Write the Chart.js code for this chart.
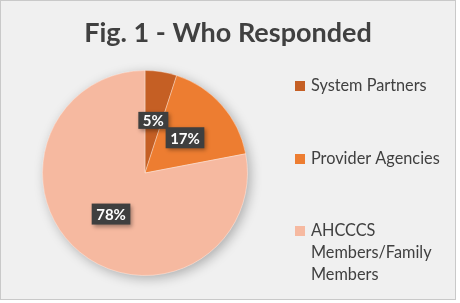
<!DOCTYPE html>
<html>
<head>
<meta charset="utf-8">
<script src="https://cdn.jsdelivr.net/npm/chart.js@4"></script>
<style>
  body { margin: 0; background: #ffffff; }
  #frame { position: absolute; left: 0; top: 0; width: 454px; height: 298px; border: 1px solid #c9c9c9; background: #f0f0f0; }
  #chart { position: absolute; left: 0; top: 0; }
</style>
</head>
<body>
<div id="frame"></div>
<canvas id="chart" width="460" height="303"></canvas>
<script>
// Survey respondents
const chartTitle = 'Fig. 1 - Who Responded';
const categories = ['System Partners', 'Provider Agencies', 'AHCCCS Members/Family Members'];
const legendLines = [['System Partners'], ['Provider Agencies'], ['AHCCCS', 'Members/Family', 'Members']];
const shares = [5, 17, 78];
const sliceColors = ['#c55f24', '#ed7d31', '#f6b9a0'];

// Soft shadow under the pie
const pieShadow = {
    id: 'pieShadow',
    beforeDatasetsDraw(chart) {
        const arc = chart.getDatasetMeta(0).data[0];
        if (!arc) return;
        const p = arc.getProps(['x', 'y', 'outerRadius'], true);
        const ctx = chart.ctx;
        ctx.save();
        ctx.shadowColor = 'rgba(0,0,0,0.28)';
        ctx.shadowBlur = 12;
        ctx.shadowOffsetX = 3;
        ctx.shadowOffsetY = 3;
        ctx.fillStyle = sliceColors[2];
        ctx.beginPath();
        ctx.arc(p.x, p.y, p.outerRadius, 0, Math.PI * 2);
        ctx.fill();
        ctx.restore();
    }
};

// Dark boxed percentage labels, title and legend
const decorations = {
    id: 'decorations',
    afterDraw(chart) {
        const ctx = chart.ctx;
        ctx.save();

        // title
        ctx.fillStyle = '#404040';
        ctx.font = 'bold 27px Lato';
        ctx.textAlign = 'center';
        ctx.textBaseline = 'alphabetic';
        ctx.fillText(chartTitle, 228, 42);

        // data labels
        ctx.font = 'bold 15px Lato';
        ctx.textBaseline = 'middle';
        chart.getDatasetMeta(0).data.forEach((arc, i) => {
            const p = arc.getProps(['x', 'y', 'startAngle', 'endAngle', 'outerRadius'], true);
            const mid = (p.startAngle + p.endAngle) / 2;
            const r = p.outerRadius * 0.52;
            const cx = p.x + Math.cos(mid) * r;
            const cy = p.y + Math.sin(mid) * r;
            const txt = shares[i] + '%';
            const w = ctx.measureText(txt).width + 9;
            const h = i === 0 ? 17 : 21;
            ctx.save();
            ctx.shadowColor = 'rgba(0,0,0,0.35)';
            ctx.shadowBlur = 4;
            ctx.shadowOffsetX = 2;
            ctx.shadowOffsetY = 2;
            ctx.fillStyle = '#3f3f3f';
            ctx.fillRect(cx - w / 2, cy - h / 2, w, h);
            ctx.restore();
            ctx.fillStyle = '#ffffff';
            ctx.fillText(txt, cx, cy + 1);
        });

        // legend
        const legendY = [86, 159, 231];
        ctx.textAlign = 'left';
        ctx.font = '16.3px Lato';
        legendLines.forEach((lines, i) => {
            ctx.fillStyle = sliceColors[i];
            ctx.fillRect(295, legendY[i] - 5, 10, 10);
            ctx.fillStyle = '#404040';
            lines.forEach((line, j) => {
                ctx.fillText(line, 311, legendY[i] + j * 22);
            });
        });
        ctx.restore();
    }
};

new Chart(document.getElementById('chart'), {
    type: 'pie',
    data: {
        labels: categories,
        datasets: [{
            data: shares,
            backgroundColor: sliceColors,
            borderColor: 'rgba(255,255,255,0.35)',
            borderWidth: 1
        }]
    },
    options: {
        responsive: false,
        animation: false,
        layout: {
            padding: { left: 42, right: 212, top: 70, bottom: 27 }
        },
        plugins: {
            legend: { display: false },
            title: { display: false },
            tooltip: { enabled: false }
        }
    },
    plugins: [pieShadow, decorations]
});
</script>
</body>
</html>
